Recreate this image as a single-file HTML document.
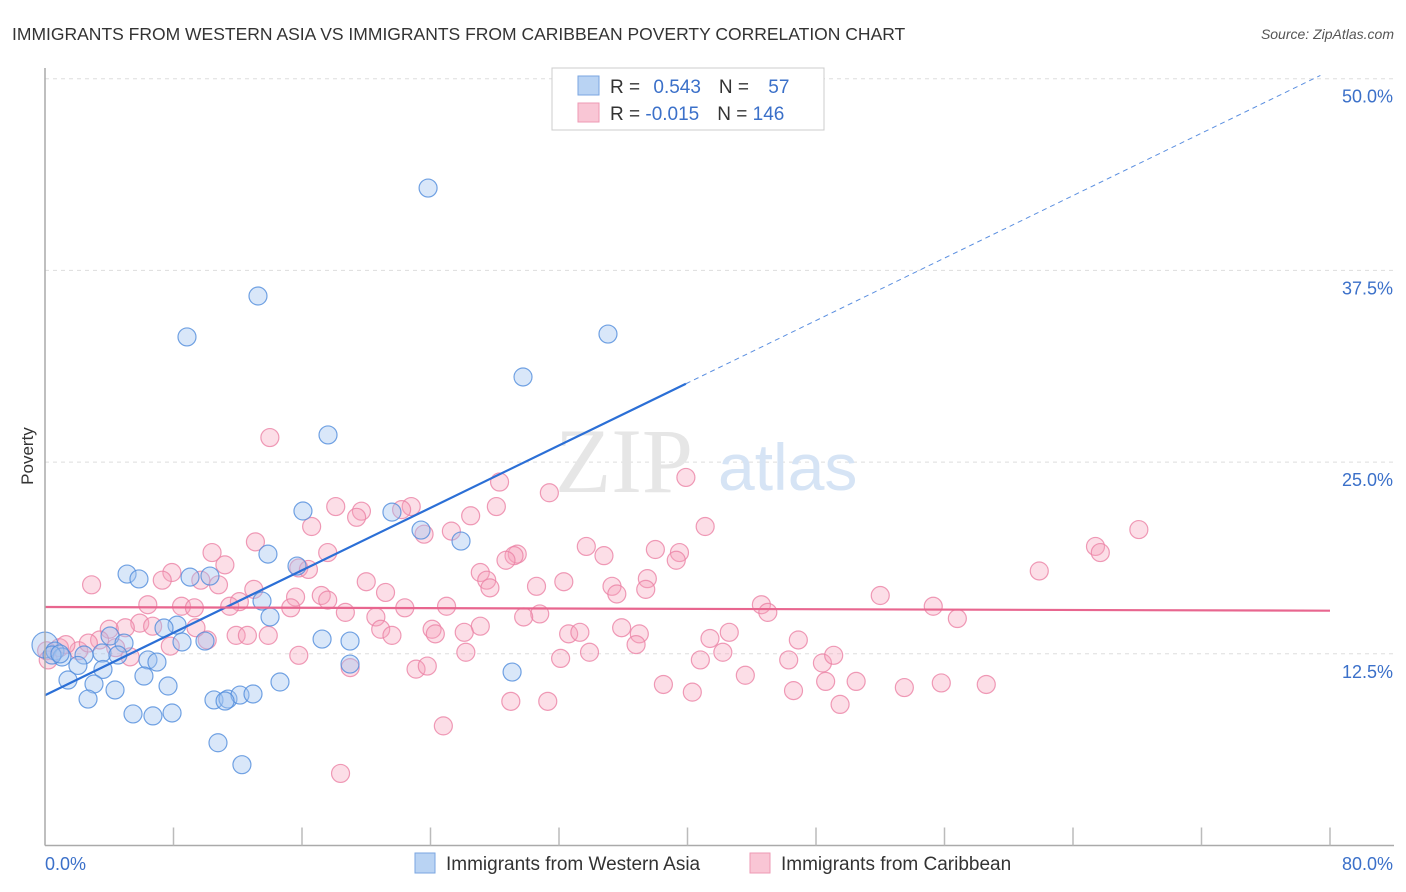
<!DOCTYPE html>
<html><head><meta charset="utf-8"><style>
body{margin:0;background:#fff;font-family:"Liberation Sans",sans-serif}
svg{display:block}
</style></head><body>
<svg id="chart" width="1406" height="892">
<text x="12" y="40" font-size="17.5" fill="#333">IMMIGRANTS FROM WESTERN ASIA VS IMMIGRANTS FROM CARIBBEAN POVERTY CORRELATION CHART</text>
<text x="1394" y="39" font-size="14" fill="#555" font-style="italic" text-anchor="end">Source: ZipAtlas.com</text>
<text x="33" y="456" font-size="17" fill="#333" text-anchor="middle" transform="rotate(-90 33 456)">Poverty</text>
<g id="grid"></g>
<text x="555" y="492" font-size="92" fill="#e6e6e6" font-family="Liberation Serif">ZIP</text>
<text x="718" y="490" font-size="66" fill="#d6e4f5">atlas</text>
<g id="pts"></g>
<g id="trend"></g>
<g id="axes"></g>
<g>
<rect x="552" y="68" width="272" height="62" fill="#fff" stroke="#ccc"/>
<rect x="578" y="76" width="21" height="19" fill="#b9d3f3" stroke="#7aa6e0"/>
<rect x="578" y="103" width="21" height="19" fill="#f9c6d5" stroke="#ee9ab4"/>
<text x="610" y="93" font-size="19" fill="#333">R = <tspan fill="#3b70c9" dx="8">0.543</tspan><tspan dx="18">N = </tspan><tspan fill="#3b70c9" dx="14">57</tspan></text>
<text x="610" y="120" font-size="19" fill="#333">R = <tspan fill="#3b70c9">-0.015</tspan><tspan dx="18">N = </tspan><tspan fill="#3b70c9">146</tspan></text>
</g>
<g>
<rect x="415" y="853" width="20" height="20" fill="#b9d3f3" stroke="#7aa6e0"/>
<text x="446" y="870" font-size="19" fill="#333">Immigrants from Western Asia</text>
<rect x="750" y="853" width="20" height="20" fill="#f9c6d5" stroke="#ee9ab4"/>
<text x="781" y="870" font-size="19" fill="#333">Immigrants from Caribbean</text>
</g>
</svg>
<script>
const yTicks=[12.5,25,37.5,50];
const yTickLabels=["12.5%","25.0%","37.5%","50.0%"];
const xTickLabels=["0.0%","80.0%"];
const blueX=[23.85,13.26,8.84,35.05,29.76,17.62,16.06,21.6,23.41,25.9,13.88,15.69,5.11,5.85,9.03,10.27,13.51,14.01,8.22,7.41,4.05,4.92,8.53,9.96,17.25,18.99,0,0.62,1.06,2.43,3.55,4.54,6.41,6.97,18.99,29.08,3.61,2.05,1.43,3.05,6.16,7.66,4.36,2.68,14.63,10.52,11.39,12.14,12.95,11.21,5.48,6.72,7.91,10.77,12.26,0.44,0.93];
const blueY=[42.87,35.83,33.16,33.35,30.55,26.77,21.81,21.74,20.57,19.85,19.0,18.22,17.7,17.38,17.5,17.57,15.94,14.9,14.37,14.18,13.66,13.2,13.27,13.33,13.46,13.33,13.07,12.68,12.29,12.42,12.55,12.42,12.1,11.96,11.83,11.31,11.48,11.74,10.79,10.53,11.05,10.4,10.14,9.55,10.66,9.49,9.55,9.81,9.88,9.42,8.58,8.45,8.64,6.7,5.27,12.42,12.49];
const pinkX=[14.0,39.9,28.3,31.4,18.1,22.8,22.2,19.7,19.4,26.5,28.1,41.1,68.1,23.6,25.3,16.6,13.1,65.4,65.7,33.7,34.8,38.0,39.5,39.3,29.4,29.2,28.7,10.4,11.2,15.8,16.4,61.9,17.6,7.9,7.3,9.7,10.8,27.1,27.5,27.7,32.3,35.3,35.6,37.5,37.4,30.6,20.0,21.2,13.0,2.9,52.0,15.6,17.2,17.6,12.1,6.4,8.5,9.3,11.5,15.3,18.7,22.4,25.0,44.6,45.0,55.3,56.8,30.8,29.8,20.6,20.9,21.6,27.1,26.1,24.1,24.3,32.6,33.3,35.9,37.0,36.8,42.6,41.4,42.2,46.9,11.9,12.6,13.9,10.1,9.4,5.9,6.7,5.0,4.0,3.4,4.4,2.1,0.9,0.1,0.2,1.3,2.7,5.3,7.8,15.8,26.2,32.1,33.9,40.8,46.3,48.4,49.1,19.0,23.1,23.8,38.5,40.3,43.6,46.6,48.6,50.5,53.5,55.8,58.6,29.0,31.3,49.5,24.8,18.4];
const pinkY=[26.6,24.0,23.7,23.0,22.1,22.1,21.9,21.8,21.4,21.5,22.1,20.8,20.6,20.3,20.5,20.8,19.8,19.5,19.1,19.5,18.9,19.3,19.1,18.6,19.0,18.9,18.6,19.1,18.3,18.1,18.0,17.9,19.1,17.8,17.3,17.3,17.0,17.8,17.3,16.8,17.2,16.9,16.4,17.4,16.7,16.9,17.2,16.5,16.7,17.0,16.3,16.2,16.3,16.0,15.9,15.7,15.6,15.5,15.6,15.5,15.2,15.5,15.6,15.7,15.2,15.6,14.8,15.1,14.9,14.9,14.1,13.7,14.3,13.9,14.1,13.8,13.8,13.9,14.2,13.8,13.1,13.9,13.5,12.6,13.4,13.7,13.7,13.7,13.4,14.2,14.5,14.3,14.2,14.1,13.4,12.9,12.7,12.9,12.7,12.1,13.1,13.2,12.3,13.0,12.4,12.6,12.2,12.6,12.1,12.1,11.9,12.4,11.6,11.5,11.7,10.5,10.0,11.1,10.1,10.7,10.7,10.3,10.6,10.5,9.4,9.4,9.2,7.8,4.7];
const blueTrend=[9.8,0.509];
const pinkTrend=[15.55,-0.003];
const NS="http://www.w3.org/2000/svg";
const X0=45,X1=1330,Y0=845.5,YS=191.7/12.5;
const sx=v=>X0+(X1-X0)*v/80, sy=v=>Y0-v*YS;
function mk(tag,attrs,parent){const e=document.createElementNS(NS,tag);for(const k in attrs)e.setAttribute(k,attrs[k]);parent.appendChild(e);return e;}
const grid=document.getElementById('grid'),axes=document.getElementById('axes'),pts=document.getElementById('pts'),trend=document.getElementById('trend');
yTicks.forEach((t,i)=>{
 const l=mk('line',{x1:X0,x2:1394,y1:sy(t),y2:sy(t),stroke:'#ddd','stroke-dasharray':'4,4'},grid);
 
 
 const tx=mk('text',{x:1393,y:sy(t)+24,'font-size':18,fill:'#3b70c9','text-anchor':'end'},axes);
 tx.textContent=yTickLabels[i];
 
 
});
mk('line',{x1:X0,x2:X0,y1:68,y2:Y0,stroke:'#aaa','stroke-width':1.5},axes);
mk('line',{x1:X0,x2:1394,y1:Y0,y2:Y0,stroke:'#aaa','stroke-width':1.5},axes);
for(let i=1;i<=10;i++){const x=sx(i*8);mk('line',{x1:x,x2:x,y1:Y0-18,y2:Y0,stroke:'#bbb','stroke-width':1.5},axes);}
const xl0=mk('text',{x:45,y:870,'font-size':18,fill:'#3b70c9'},axes);xl0.textContent=xTickLabels[0];


const xl1=mk('text',{x:1393,y:870,'font-size':18,fill:'#3b70c9','text-anchor':'end'},axes);xl1.textContent=xTickLabels[1];


pinkX.forEach((v,i)=>{const c=mk('circle',{cx:sx(v),cy:sy(pinkY[i]),r:9,fill:'rgba(245,160,185,0.35)',stroke:'rgba(235,130,165,0.8)','stroke-width':1.2},pts);
 
 });
blueX.forEach((v,i)=>{const c=mk('circle',{cx:sx(v),cy:sy(blueY[i]),r:(i==26?13:9),fill:'rgba(160,195,240,0.4)',stroke:'rgba(80,140,220,0.8)','stroke-width':1.2},pts);
 
 });
const bx=39.9;
const b1=mk('line',{x1:sx(0),y1:sy(blueTrend[0]),x2:sx(bx),y2:sy(blueTrend[0]+blueTrend[1]*bx),stroke:'#2b6fd6','stroke-width':2.2},trend);


const bxe=79.4;
const b2=mk('line',{x1:sx(bx),y1:sy(blueTrend[0]+blueTrend[1]*bx),x2:sx(bxe),y2:sy(blueTrend[0]+blueTrend[1]*bxe),stroke:'#5b8fe0','stroke-width':1,'stroke-dasharray':'5,4'},trend);


const p1=mk('line',{x1:sx(0),y1:sy(pinkTrend[0]),x2:sx(80),y2:sy(pinkTrend[0]+pinkTrend[1]*80),stroke:'#e8668f','stroke-width':2.2},trend);


</script>
</body></html>
